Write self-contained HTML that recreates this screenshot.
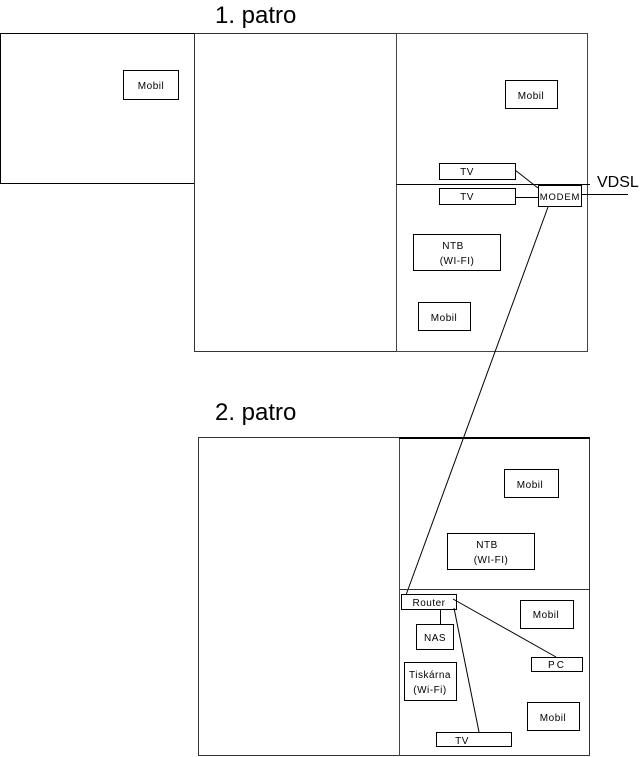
<!DOCTYPE html>
<html><head><meta charset="utf-8"><style>
html,body{margin:0;padding:0;background:#fff;width:640px;height:757px;overflow:hidden}
svg{display:block}
text{font-family:"Liberation Sans",sans-serif;fill:#000}
.s{font-size:10px;text-anchor:middle;letter-spacing:0.5px}
</style></head><body>
<svg width="640" height="757" viewBox="0 0 640 757" xmlns="http://www.w3.org/2000/svg">
<g fill="none" stroke="#000" stroke-width="1">
<rect x="0.5" y="33.5" width="194" height="150"/>
<rect x="194.5" y="33.5" width="202" height="318" stroke="#333"/>
<rect x="396.5" y="33.5" width="191" height="318" stroke="#444"/>
<line x1="396" y1="184.5" x2="590" y2="184.5"/>
<rect x="123.5" y="70.5" width="55" height="29"/>
<rect x="505.5" y="80.5" width="52" height="28"/>
<rect x="439.5" y="163.5" width="76" height="16"/>
<rect x="439.5" y="188.5" width="76" height="16"/>
<rect x="538.5" y="185.5" width="43" height="21" fill="#fff"/>
<line x1="581" y1="194.5" x2="628" y2="194.5"/>
<rect x="413.5" y="234.5" width="87" height="36"/>
<rect x="418.5" y="302.5" width="52" height="28"/>
<line x1="515" y1="170" x2="538" y2="188"/>
<line x1="515" y1="197.5" x2="538" y2="197.5"/>
<line x1="548" y1="207" x2="406" y2="595"/>
<rect x="198.5" y="437.5" width="391" height="318" stroke="#333"/>
<line x1="399.5" y1="437" x2="399.5" y2="756" stroke="#444"/>
<line x1="399" y1="438" x2="590" y2="438" stroke-width="2"/>
<line x1="400" y1="589.5" x2="590" y2="589.5" stroke="#333"/>
<rect x="504.5" y="469.5" width="54" height="28"/>
<rect x="447.5" y="533.5" width="87" height="36"/>
<rect x="401.5" y="594.5" width="55" height="15"/>
<rect x="416.5" y="624.5" width="37" height="25"/>
<rect x="520.5" y="600.5" width="53" height="28"/>
<rect x="531.5" y="657.5" width="51" height="14"/>
<rect x="404.5" y="662.5" width="52" height="38"/>
<rect x="527.5" y="702.5" width="52" height="28"/>
<rect x="436.5" y="732.5" width="75" height="14"/>
<line x1="440.5" y1="610" x2="440.5" y2="624"/>
<line x1="453" y1="599" x2="556" y2="657"/>
<line x1="454" y1="608" x2="479" y2="732"/>
</g>
<text x="215" y="23" font-size="24">1. patro</text>
<text x="215" y="420" font-size="24">2. patro</text>
<text x="597" y="187" font-size="16">VDSL</text>
<text class="s" x="151" y="89">Mobil</text>
<text class="s" x="531" y="99">Mobil</text>
<text class="s" x="467" y="175">TV</text>
<text class="s" x="467" y="200">TV</text>
<text class="s" x="560" y="200" style="letter-spacing:0.8px;font-size:9.5px">MODEM</text>
<text class="s" x="453" y="249">NTB</text>
<text class="s" x="457" y="264">(WI-FI)</text>
<text class="s" x="444" y="321">Mobil</text>
<text class="s" x="530" y="488">Mobil</text>
<text class="s" x="487" y="548">NTB</text>
<text class="s" x="491" y="563">(WI-FI)</text>
<text class="s" x="429" y="606">Router</text>
<text class="s" x="435" y="641">NAS</text>
<text class="s" x="546" y="618">Mobil</text>
<text class="s" x="557" y="668" style="letter-spacing:2px">PC</text>
<text class="s" x="430" y="678">Tiskárna</text>
<text class="s" x="430" y="693">(Wi-Fi)</text>
<text class="s" x="553" y="721">Mobil</text>
<text class="s" x="462" y="744">TV</text>
</svg>
</body></html>
